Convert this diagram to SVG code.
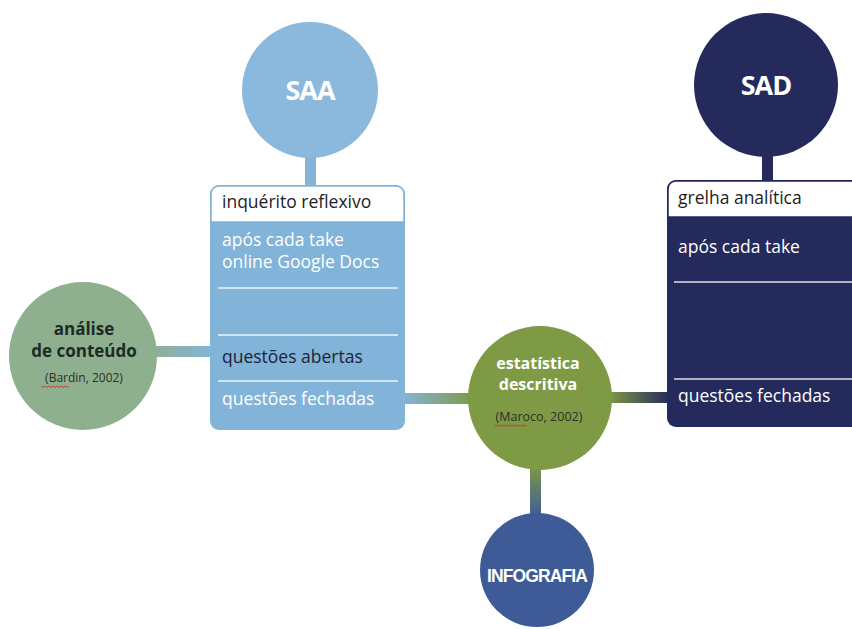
<svg xmlns="http://www.w3.org/2000/svg" width="852" height="629" viewBox="0 0 852 629">
<style>
.t{font-family:"Open Sans","Noto Sans",sans-serif}
.hd{font-size:17.5px;fill:#1d1d26}
.wt{font-size:17.5px;fill:#ffffff}
.dk{font-size:17.5px;fill:#1d2436}
.big{font-size:27px;font-weight:bold;fill:#ffffff;letter-spacing:-1px}
.ct{font-size:12px;fill:#2c2f2a}
.sep{stroke:#ffffff;stroke-width:1.5;opacity:0.85}
</style>
<defs>
<linearGradient id="gL" x1="0" x2="1" y1="0" y2="0"><stop offset="0" stop-color="#8fb08e"/><stop offset="1" stop-color="#84b4d8"/></linearGradient>
<linearGradient id="gM" x1="0" x2="1" y1="0" y2="0"><stop offset="0" stop-color="#84b4d8"/><stop offset="1" stop-color="#7e9a45"/></linearGradient>
<linearGradient id="gR" x1="0" x2="1" y1="0" y2="0"><stop offset="0" stop-color="#7e9a45"/><stop offset="1" stop-color="#242a5c"/></linearGradient>
<linearGradient id="gD" x1="0" x2="0" y1="0" y2="1"><stop offset="0" stop-color="#7e9a45"/><stop offset="1" stop-color="#3e5b98"/></linearGradient>
</defs>
<rect width="852" height="629" fill="#ffffff"/>
<g id="connectors">
<rect x="305" y="150" width="11" height="36" fill="#84b4d8"/>
<rect x="762" y="150" width="11" height="32" fill="#242a5c"/>
<rect x="150" y="346" width="62" height="11" fill="url(#gL)"/>
<rect x="403" y="393" width="70" height="11" fill="url(#gM)"/>
<rect x="608" y="392" width="62" height="11" fill="url(#gR)"/>
<rect x="530" y="465" width="11" height="52" fill="url(#gD)"/>
</g>
<g id="saa">
<circle cx="310" cy="90" r="68" fill="#8bb9dd"/>
<text class="t big" x="310" y="100" text-anchor="middle">SAA</text>
</g>
<g id="saa-box">
<rect x="210" y="185" width="195" height="245" rx="9" fill="#82b3d9"/>
<path d="M219,186 H396 A8,8 0 0 1 404,194 V222 H211 V194 A8,8 0 0 1 219,186 Z" fill="#ffffff" stroke="#82b3d9" stroke-width="1.5"/>
<text class="t hd" x="222" y="208">inquérito reflexivo</text>
<text class="t wt" x="222" y="246">após cada take</text>
<text class="t wt" x="222" y="268">online Google Docs</text>
<line class="sep" x1="218" y1="288" x2="398" y2="288"/>
<line class="sep" x1="218" y1="335" x2="398" y2="335"/>
<text class="t dk" x="222" y="363">questões abertas</text>
<line class="sep" x1="218" y1="381" x2="398" y2="381"/>
<text class="t wt" x="222" y="405">questões fechadas</text>
</g>
<g id="sad">
<circle cx="766" cy="85" r="72" fill="#242a5c"/>
<text class="t big" x="766" y="95" text-anchor="middle">SAD</text>
</g>
<g id="sad-box">
<rect x="667" y="180" width="200" height="247" rx="9" fill="#242a5c"/>
<path d="M676,181 H860 V217 H668 V189 A8,8 0 0 1 676,181 Z" fill="#ffffff" stroke="#242a5c" stroke-width="1.5"/>
<text class="t hd" x="678" y="204">grelha analítica</text>
<text class="t wt" x="678" y="253">após cada take</text>
<line class="sep" x1="674" y1="282" x2="852" y2="282"/>
<line class="sep" x1="674" y1="379" x2="852" y2="379"/>
<text class="t wt" x="678" y="402">questões fechadas</text>
</g>
<g id="analise">
<circle cx="83" cy="356" r="74" fill="#8fb08e"/>
<text class="t" x="84" y="335" text-anchor="middle" font-size="17" font-weight="bold" fill="#1d2a26">análise</text>
<text class="t" x="84" y="357" text-anchor="middle" font-size="17" font-weight="bold" fill="#1d2a26">de conteúdo</text>
<text class="t ct" x="84" y="382" text-anchor="middle">(Bardin, 2002)</text>
<path d="M41,386 l2,1.5 2,-1.5 2,1.5 2,-1.5 2,1.5 2,-1.5 2,1.5 2,-1.5 2,1.5 2,-1.5 2,1.5 2,-1.5 2,1.5 2,-1.5" fill="none" stroke="#d03030" stroke-width="0.9"/>
</g>
<g id="estatistica">
<circle cx="540" cy="398" r="72" fill="#7e9a45"/>
<text class="t" x="538" y="369" text-anchor="middle" font-size="16" font-weight="bold" fill="#ffffff">estatística</text>
<text class="t" x="538" y="390" text-anchor="middle" font-size="16" font-weight="bold" fill="#ffffff">descritiva</text>
<text class="t" x="539" y="421" text-anchor="middle" font-size="12.5" fill="#2c2f2a">(Maroco, 2002)</text>
<path d="M495,425 l2,1.5 2,-1.5 2,1.5 2,-1.5 2,1.5 2,-1.5 2,1.5 2,-1.5 2,1.5 2,-1.5 2,1.5 2,-1.5 2,1.5 2,-1.5 2,1.5 2,-1.5" fill="none" stroke="#d03030" stroke-width="0.9"/>
</g>
<g id="infografia">
<circle cx="537" cy="570" r="57" fill="#3e5b98"/>
<text x="537" y="582" text-anchor="middle" font-family="Liberation Sans,Arial,sans-serif" font-size="17.5" font-weight="bold" fill="#ffffff" letter-spacing="-0.9">INFOGRAFIA</text>
</g>
</svg>
